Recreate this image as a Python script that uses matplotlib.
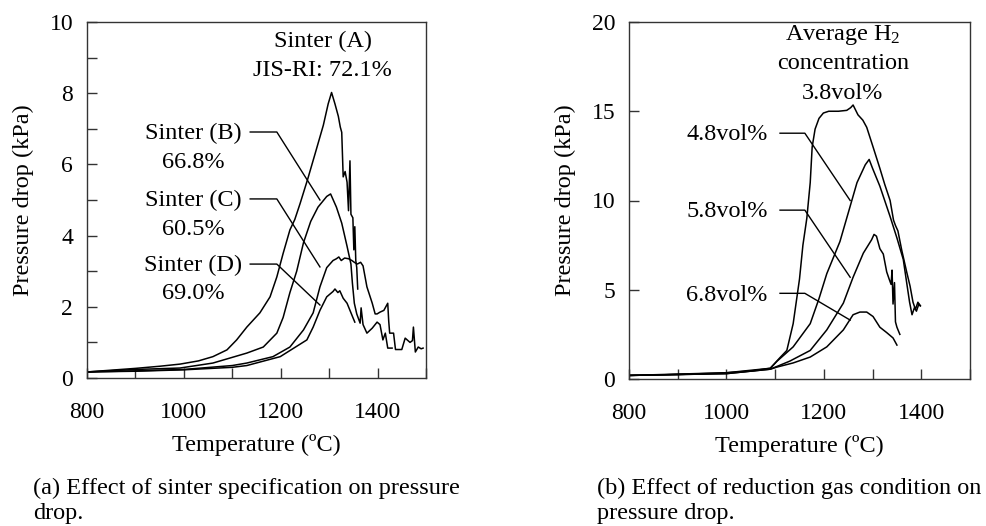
import matplotlib
matplotlib.use("Agg")
import matplotlib.pyplot as plt
from matplotlib.ticker import MultipleLocator

plt.rcParams['font.family'] = ['Liberation Serif', 'DejaVu Serif']
plt.rcParams['mathtext.fontset'] = 'custom'
plt.rcParams['mathtext.rm'] = 'Liberation Serif'
plt.rcParams['mathtext.it'] = 'Liberation Serif:italic'

# ---------------- Panel (a): effect of sinter specification ----------------
a_T = [800, 850, 900, 950, 992, 1030, 1060, 1089, 1109, 1130, 1157, 1178, 1192, 1205,
       1219, 1229, 1240, 1256, 1271, 1288, 1298, 1305, 1312, 1319, 1321, 1323, 1326,
       1329, 1333, 1337, 1340, 1343, 1345, 1349, 1351, 1353, 1355, 1357, 1359]
a_P = [0.17, 0.22, 0.27, 0.33, 0.39, 0.48, 0.60, 0.79, 1.07, 1.43, 1.83, 2.28, 2.84, 3.50,
       4.16, 4.45, 4.90, 5.60, 6.30, 7.10, 7.70, 8.02, 7.70, 7.35, 7.20, 7.05, 6.90,
       5.65, 5.80, 5.50, 4.70, 6.10, 4.60, 4.50, 3.60, 4.25, 3.30, 3.10, 2.50]

b_T = [800, 900, 992, 1060, 1130, 1164, 1192, 1205, 1219, 1233, 1247, 1262, 1277, 1295,
       1303, 1315, 1326, 1337, 1345, 1348, 1352, 1357, 1364, 1366, 1370, 1378, 1389,
       1399, 1405, 1411, 1416, 1421, 1430]
b_P = [0.17, 0.24, 0.28, 0.42, 0.70, 0.87, 1.26, 1.70, 2.40, 3.00, 3.80, 4.40, 4.80, 5.10,
       5.17, 4.80, 4.35, 3.70, 3.20, 2.67, 2.10, 1.80, 1.54, 1.97, 1.50, 1.26, 1.40,
       1.57, 1.50, 1.07, 1.26, 0.84, 0.84]

c_T = [800, 900, 1000, 1100, 1130, 1184, 1219, 1247, 1267, 1281, 1295, 1308, 1315, 1320,
       1325, 1332, 1340, 1347, 1352, 1358, 1365, 1370, 1378, 1389, 1395, 1399, 1405,
       1413, 1421, 1423, 1425, 1433, 1437, 1450, 1457, 1467, 1472, 1474, 1478, 1484,
       1490, 1494]
c_P = [0.17, 0.20, 0.24, 0.35, 0.42, 0.60, 0.87, 1.35, 1.83, 2.56, 3.10, 3.30, 3.35, 3.40,
       3.30, 3.37, 3.35, 3.30, 3.25, 3.20, 3.25, 3.15, 2.56, 2.10, 1.80, 1.80, 1.85,
       1.90, 2.10, 1.60, 1.26, 1.26, 0.80, 0.80, 1.12, 1.00, 1.05, 1.43, 0.73, 0.87,
       0.82, 0.84]

d_T = [800, 900, 1000, 1100, 1130, 1199, 1254, 1267, 1281, 1295, 1308, 1312, 1318, 1322,
       1329, 1337, 1343, 1349, 1353]
d_P = [0.17, 0.19, 0.23, 0.30, 0.35, 0.60, 1.07, 1.43, 1.90, 2.28, 2.43, 2.50, 2.40, 2.45,
       2.24, 2.10, 1.90, 1.70, 1.57]

# ---------------- Panel (b): effect of reduction gas condition ----------------
h38_T = [800, 900, 1000, 1050, 1090, 1100, 1110, 1124, 1137, 1150, 1157, 1165, 1172, 1176,
         1182, 1190, 1199, 1210, 1230, 1247, 1255, 1260, 1270, 1280, 1288, 1301, 1315,
         1325, 1336, 1343, 1347, 1352, 1360, 1370, 1377, 1383, 1388, 1393, 1398]
h38_P = [0.20, 0.25, 0.35, 0.45, 0.60, 0.90, 1.20, 1.60, 3.10, 5.60, 7.50, 9.00, 11.0, 13.0,
         14.0, 14.6, 14.9, 15.0, 15.0, 15.05, 15.2, 15.35, 14.8, 14.5, 14.1, 13.0, 11.8,
         10.9, 10.0, 8.9, 8.6, 8.3, 7.2, 6.0, 5.2, 4.3, 3.9, 4.3, 4.1]

h48_T = [800, 1000, 1090, 1104, 1137, 1172, 1190, 1206, 1233, 1250, 1268, 1285, 1293, 1300,
         1315, 1336, 1350, 1363, 1370, 1376, 1381, 1386, 1390, 1395, 1398]
h48_P = [0.20, 0.35, 0.60, 1.00, 1.80, 3.10, 4.50, 5.90, 7.70, 9.30, 11.0, 12.0, 12.3, 11.8,
         10.8, 9.1, 7.9, 6.7, 5.4, 4.3, 3.6, 4.0, 3.8, 4.2, 4.1]

h58_T = [800, 1000, 1090, 1130, 1172, 1206, 1240, 1260, 1281, 1298, 1303, 1308, 1315, 1322,
         1329, 1334, 1338, 1340, 1342, 1345, 1347, 1350, 1356]
h58_P = [0.20, 0.30, 0.55, 1.00, 1.60, 2.75, 4.25, 5.70, 7.05, 7.80, 8.10, 8.00, 7.30, 7.00,
         6.00, 5.60, 5.30, 6.10, 4.20, 5.40, 3.20, 2.90, 2.50]

h68_T = [800, 1000, 1090, 1104, 1137, 1172, 1206, 1240, 1260, 1274, 1288, 1301, 1315, 1329,
         1342, 1350]
h68_P = [0.20, 0.30, 0.55, 0.67, 0.90, 1.23, 1.80, 2.75, 3.60, 3.75, 3.75, 3.50, 2.90, 2.60,
         2.30, 1.90]

FS = 17.5      # annotation / label text
TFS = 17       # tick labels
LC = 'black'
SPINE = '#333333'

fig = plt.figure(figsize=(9.87, 5.26), dpi=100)
axL = fig.add_axes([87/987, 1-378/526, 339/987, 356/526])
axR = fig.add_axes([629/987, 1-379/526, 341/987, 357/526])

def style(ax):
    for s in ax.spines.values():
        s.set_color(SPINE)
        s.set_linewidth(1.0)
    ax.tick_params(which='both', direction='in', length=7, width=1.0, color=SPINE,
                   labelsize=TFS, top=False, right=False)
    ax.tick_params(axis='x', pad=17)
    ax.tick_params(axis='y', pad=10)
    ax.set_xlim(800, 1500)
    ax.xaxis.set_minor_locator(MultipleLocator(100))
    ax.set_xticks([800, 1000, 1200, 1400])
    ax.set_xlabel('Temperature (ºC)', fontsize=FS, labelpad=8)
    ax.set_ylabel('Pressure drop (kPa)', fontsize=FS, labelpad=11)

# Panel (a)
for T, P in [(a_T, a_P), (b_T, b_P), (c_T, c_P), (d_T, d_P)]:
    axL.plot(T, P, color=LC, lw=1.1)
style(axL)
axL.set_ylim(0, 10)
axL.yaxis.set_major_locator(MultipleLocator(2))
axL.yaxis.set_minor_locator(MultipleLocator(1))

axL.text(1287, 9.44, 'Sinter (A)', ha='center', va='center', fontsize=FS)
axL.text(1287, 8.65, 'JIS-RI: 72.1%', ha='center', va='center', fontsize=FS)
for lab, pct, y1, y2, yend in [('Sinter (B)', '66.8%', 6.88, 6.04, 5.0),
                               ('Sinter (C)', '60.5%', 5.00, 4.16, 3.12),
                               ('Sinter (D)', '69.0%', 3.17, 2.36, 2.05)]:
    axL.text(1019, y1, lab, ha='center', va='center', fontsize=FS)
    axL.text(1019, y2, pct, ha='center', va='center', fontsize=FS)
    axL.plot([1137, 1192, 1281], [y1 + 0.03, y1 + 0.03, yend], color=LC, lw=1.0)

# Panel (b)
for T, P in [(h38_T, h38_P), (h48_T, h48_P), (h58_T, h58_P), (h68_T, h68_P)]:
    axR.plot(T, P, color=LC, lw=1.1)
style(axR)
axR.set_ylim(0, 20)
axR.yaxis.set_major_locator(MultipleLocator(5))
axR.yaxis.set_minor_locator(MultipleLocator(5))

axR.text(1239, 19.27, r'Average H$_{\mathrm{2}}$', ha='center', va='center', fontsize=FS)
axR.text(1239, 17.7, 'concentration', ha='center', va='center', fontsize=FS)
axR.text(1239, 16.0, '3.8vol%', ha='center', va='center', fontsize=FS)
for lab, y1, yend in [('4.8vol%', 13.67, 10.0), ('5.8vol%', 9.36, 5.7), ('6.8vol%', 4.7, 3.3)]:
    axR.text(1001, y1, lab, ha='center', va='center', fontsize=FS)
    axR.plot([1110, 1161, 1254], [y1 + 0.1, y1 + 0.1, yend], color=LC, lw=1.0)

# Captions
fig.text(33/987, 1-488/526, '(a) Effect of sinter specification on pressure',
         ha='left', va='center', fontsize=FS)
fig.text(33/987, 1-513/526, 'drop.', ha='left', va='center', fontsize=FS)
fig.text(597/987, 1-488/526, '(b) Effect of reduction gas condition on',
         ha='left', va='center', fontsize=FS)
fig.text(597/987, 1-513/526, 'pressure drop.', ha='left', va='center', fontsize=FS)

fig.savefig('out.png', dpi=100)
